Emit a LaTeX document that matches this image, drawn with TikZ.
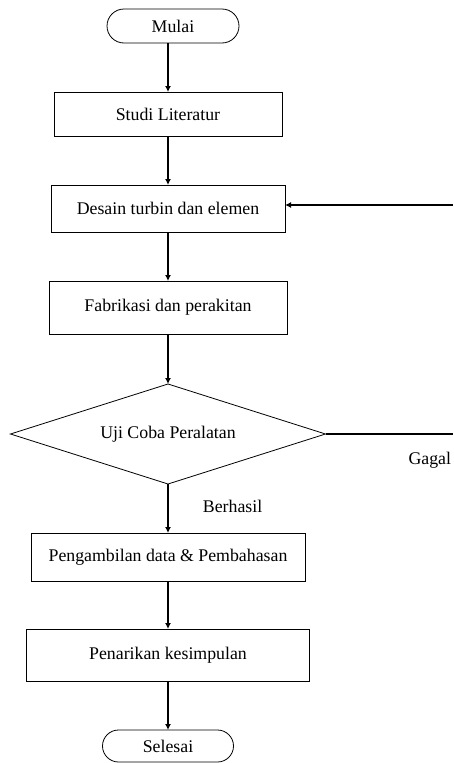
\documentclass[tikz,border=0pt]{standalone}
\usepackage{fontspec}
\setmainfont{Liberation Serif}
\usepackage{tikz}
\usetikzlibrary{positioning,arrows.meta,shapes.geometric}
\tikzset{>={Latex[width=6pt,length=6pt]}}
\tikzset{
	terminal/.style={draw, line width=0.8pt, rounded corners=17pt, minimum width=132pt, minimum height=34pt, inner sep=0pt, outer sep=0pt},
	proses/.style={draw, line width=0.8pt, minimum height=48pt, inner sep=0pt, outer sep=0pt},
	keputusan/.style={draw, diamond, aspect=3.15, line width=0.8pt, minimum width=315pt, minimum height=100pt, inner sep=0pt, outer sep=0pt},
	alur/.style={->, line width=1.9pt},
	ket/.style={inner sep=0pt}
}

\begin{document}
\begin{tikzpicture}[font=\fontsize{17.8}{21}\selectfont]
		\useasboundingbox (0,0) rectangle (453pt,-763pt);
		
		\node(mulai) [terminal] at (173pt,-26pt)													{Mulai};
		\node(studi) [proses, minimum width=228pt, minimum height=44pt, below=49pt of mulai, xshift=-5pt]	{Studi Literatur};
		\node(desain) [proses, minimum width=234pt, minimum height=47pt, below=49pt of studi]			{Desain turbin dan elemen};
		\node(fabrikasi) [proses, minimum width=238pt, minimum height=53pt, below=49pt of desain]		{Fabrikasi dan perakitan};
		\node(uji) [keputusan, below=50pt of fabrikasi]												{Uji Coba Peralatan};
		\node(data) [proses, minimum width=274pt, minimum height=48pt, below=49pt of uji]				{Pengambilan data \& Pembahasan};
		\node(simpulan) [proses, minimum width=283pt, minimum height=52pt, below=48pt of data]			{Penarikan kesimpulan};
		\node(selesai) [terminal, rounded corners=16pt, minimum width=131pt, minimum height=32pt, below=49pt of simpulan]	{Selesai};
		
		\coordinate(balik) at (453pt,-205pt);
		\coordinate(gagal) at (453pt,-434pt);
		
		\draw[alur](studi |- mulai.south) -- (studi);
		\draw[alur](studi) -- (desain);
		\draw[alur](desain) -- (fabrikasi);
		\draw[alur](fabrikasi) -- (uji);
		\draw[alur](uji) -- node[ket, pos=0.45, right=34pt]{Berhasil} (data);
		\draw[alur](data) -- (simpulan);
		\draw[alur](simpulan) -- (selesai);
		
		\draw[line width=1.9pt](uji.east) -- (uji.east -| gagal) node[ket, below left=17pt and 1pt]{Gagal};
		\draw[alur](balik) -- (balik -| desain.east);
		
	\end{tikzpicture}
\end{document}
